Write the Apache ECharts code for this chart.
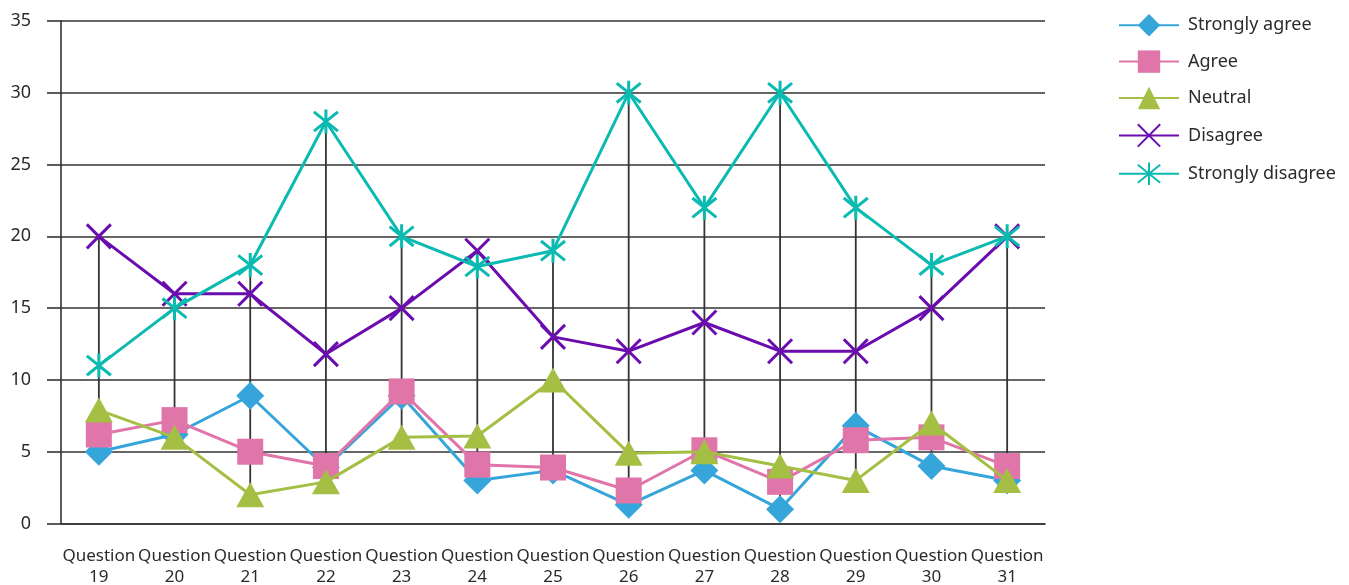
<!DOCTYPE html>
<html>
<head>
<meta charset="utf-8">
<script src="https://cdn.jsdelivr.net/npm/echarts@6/dist/echarts.min.js"></script>
<style>
  html, body { margin: 0; padding: 0; background: #fff; }
  #chart { width: 1349px; height: 585px; }
</style>
</head>
<body>
<div id="chart"></div>
<script>
// Survey responses per question
const categories = ['Question\n19', 'Question\n20', 'Question\n21', 'Question\n22', 'Question\n23',
  'Question\n24', 'Question\n25', 'Question\n26', 'Question\n27', 'Question\n28',
  'Question\n29', 'Question\n30', 'Question\n31'];

const stronglyAgree    = [5, 6.2, 8.9, 3.9, 8.9, 3, 3.7, 1.3, 3.7, 1, 6.8, 4, 3];
const agree            = [6.2, 7.2, 5, 4, 9.2, 4.1, 3.9, 2.3, 5.1, 2.9, 5.8, 6, 4];
const neutral          = [7.9, 6, 2, 2.9, 6, 6.1, 10, 4.9, 5, 4, 3, 7, 3];
const disagree         = [20, 16, 16, 11.8, 15, 19, 13, 12, 14, 12, 12, 15, 20];
const stronglyDisagree = [11, 15, 18, 28, 20, 17.9, 19, 30, 22, 30, 22, 18, 20];

const seriesNames = ['Strongly agree', 'Agree', 'Neutral', 'Disagree', 'Strongly disagree'];
const seriesData = [stronglyAgree, agree, neutral, disagree, stronglyDisagree];
const seriesColors = ['#36a6da', '#e075aa', '#a5bf45', '#6b0dae', '#0bbab1'];

const yTicks = [0, 5, 10, 15, 20, 25, 30, 35];

// High-low lines: span from the lowest to the highest response per question
const highLow = categories.map((c, i) => {
  const vals = seriesData.map(s => s[i]);
  return [i, Math.min(...vals), Math.max(...vals)];
});

const crossPath = 'path://M0,0L10,10M10,0L0,10';
const starPath = 'path://M0,0L10,10M10,0L0,10M5,-1.2L5,11.2';

const markerDefs = [
  { symbol: 'diamond', size: [28, 28], stroked: false },
  { symbol: 'rect', size: [26, 26], stroked: false },
  { symbol: 'triangle', size: [28, 25], stroked: false },
  { symbol: crossPath, size: [24, 24], stroked: true },
  { symbol: starPath, size: [24, 24], stroked: true }
];

const axisColor = '#333333';
const textColor = '#2b2b2b';
const fontFamily = '"Noto Sans", "Open Sans", sans-serif';

const chart = echarts.init(document.getElementById('chart'), null, { renderer: 'canvas' });

const lineSeries = seriesNames.map((name, k) => {
  const m = markerDefs[k];
  const col = seriesColors[k];
  return {
    name: name,
    type: 'line',
    data: seriesData[k],
    color: col,
    symbol: m.symbol,
    symbolSize: m.size,
    symbolKeepAspect: false,
    showAllSymbol: true,
    z: 3 + k,
    lineStyle: { color: col, width: 3 },
    itemStyle: m.stroked
      ? { color: 'rgba(0,0,0,0)', borderColor: col, borderWidth: 3 }
      : { color: col, borderWidth: 0 },
    emphasis: { disabled: true },
    animation: false
  };
});

const option = {
  animation: false,
  backgroundColor: '#ffffff',
  textStyle: { fontFamily: fontFamily },
  grid: {
    left: 61, right: 304, top: 21, bottom: 61.5,
    containLabel: false,
    outerBoundsMode: 'none'
  },
  legend: {
    data: seriesNames,
    orient: 'vertical',
    left: 1113,
    top: 9,
    itemWidth: 60,
    itemHeight: 28,
    itemGap: 14,
    selectedMode: false,
    textStyle: { color: textColor, fontSize: 18, fontFamily: fontFamily, padding: [0, 0, 0, 4] }
  },
  xAxis: {
    type: 'category',
    data: categories,
    boundaryGap: true,
    axisLine: { show: true, lineStyle: { color: axisColor, width: 1.6 } },
    axisTick: { show: false },
    splitLine: { show: false },
    axisLabel: {
      color: textColor,
      fontSize: 17,
      lineHeight: 21,
      margin: 22,
      interval: 0,
      fontFamily: fontFamily
    }
  },
  yAxis: {
    type: 'value',
    min: 0,
    max: 35,
    interval: 5,
    axisLine: { show: true, lineStyle: { color: axisColor, width: 1.6 } },
    axisTick: { show: true, inside: false, length: 14, lineStyle: { color: axisColor, width: 1.6 } },
    splitLine: { show: true, lineStyle: { color: axisColor, width: 1.6 } },
    axisLabel: {
      color: textColor,
      fontSize: 18,
      margin: 30,
      fontFamily: fontFamily,
      formatter: v => (yTicks.indexOf(v) >= 0 ? String(v) : '')
    }
  },
  series: [
    {
      name: 'high-low',
      type: 'custom',
      silent: true,
      z: 2,
      data: highLow,
      encode: { x: 0, y: [1, 2] },
      renderItem: (params, api) => {
        const lo = api.coord([api.value(0), api.value(1)]);
        const hi = api.coord([api.value(0), api.value(2)]);
        return {
          type: 'line',
          shape: { x1: lo[0], y1: lo[1], x2: hi[0], y2: hi[1] },
          style: { stroke: axisColor, lineWidth: 1.8 }
        };
      }
    }
  ].concat(lineSeries)
};

chart.setOption(option);
</script>
</body>
</html>
